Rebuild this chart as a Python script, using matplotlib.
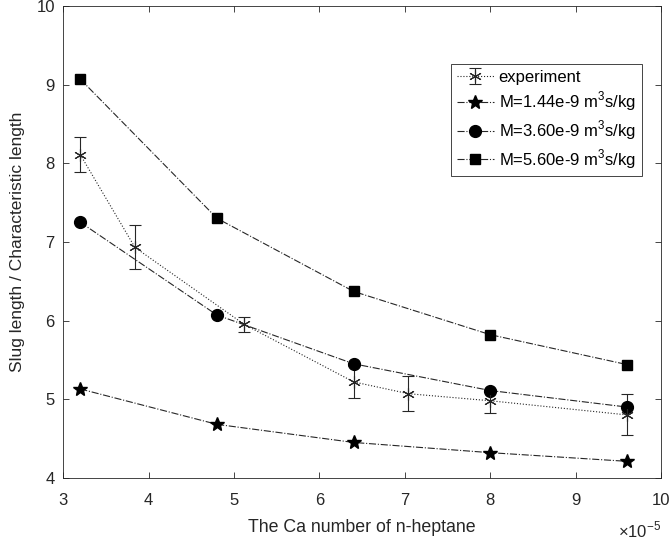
import matplotlib
matplotlib.use("Agg")
import matplotlib.pyplot as plt
import numpy as np

plt.rcParams['font.family'] = ['Liberation Sans', 'DejaVu Sans']
plt.rcParams['mathtext.fontset'] = 'custom'
plt.rcParams['mathtext.rm'] = 'Liberation Sans'

# data (Ca number in units of 1e-5)
ca_exp = [3.2, 3.84, 5.12, 6.4, 7.04, 8.0, 9.6]
slug_exp = [8.11, 6.93, 5.95, 5.22, 5.07, 4.98, 4.80]
err_exp = [0.225, 0.28, 0.1, 0.2, 0.22, 0.15, 0.26]

ca_model = [3.2, 4.8, 6.4, 8.0, 9.6]
slug_m144 = [5.13, 4.68, 4.45, 4.32, 4.21]
slug_m360 = [7.25, 6.07, 5.45, 5.11, 4.90]
slug_m560 = [9.07, 7.30, 6.37, 5.82, 5.44]

fig = plt.figure(figsize=(6.72, 5.43), dpi=100)
ax = fig.add_axes([0.094, 0.12, 0.89, 0.869])

lc = '#262626'
h0 = ax.errorbar(ca_exp, slug_exp, yerr=err_exp, color=lc, ls=':', lw=0.8, marker=(6, 2, 0),
                 ms=9, mew=0.8, capsize=4, elinewidth=0.8, capthick=0.8, label='experiment')
h1, = ax.plot(ca_model, slug_m144, color=lc, ls='-.', lw=0.8, marker='*', ms=10,
              mfc='k', mec='k', label='M=1.44e-9 m$^3$s/kg')
h2, = ax.plot(ca_model, slug_m360, color=lc, ls='-.', lw=0.8, marker='o', ms=8.5,
              mfc='k', mec='k', label='M=3.60e-9 m$^3$s/kg')
h3, = ax.plot(ca_model, slug_m560, color=lc, ls='-.', lw=0.8, marker='s', ms=7.5,
              mfc='k', mec='k', label='M=5.60e-9 m$^3$s/kg')

ax.set_xlim(3, 10)
ax.set_ylim(4, 10)
ax.set_xticks(range(3, 11))
ax.set_yticks(range(4, 11))
ax.tick_params(direction='in', top=True, right=True, labelsize=12, length=4, width=0.6,
               colors='#262626')
ax.tick_params(axis='x', pad=11)
ax.tick_params(axis='y', pad=6)
for s in ax.spines.values():
    s.set_linewidth(0.6)
    s.set_color('#262626')

ax.set_xlabel('The Ca number of n-heptane', fontsize=12.8, color='#262626', labelpad=8)
ax.set_ylabel('Slug length / Characteristic length', fontsize=12.5, color='#262626', labelpad=8)
ax.text(1.0, -0.088, r'$\times10^{-5}$', transform=ax.transAxes, ha='right', va='top',
        fontsize=12, color='#262626')

leg = ax.legend([h0, h1, h2, h3], [h.get_label() for h in [h0, h1, h2, h3]],
                loc='upper right', bbox_to_anchor=(0.967, 0.877), borderaxespad=0,
                fontsize=12, fancybox=False, framealpha=1, edgecolor='#262626',
                handlelength=2.2, borderpad=0.35, labelspacing=0.3, handletextpad=0.3)
leg.get_frame().set_linewidth(0.6)

fig.savefig('out.png', dpi=100)
